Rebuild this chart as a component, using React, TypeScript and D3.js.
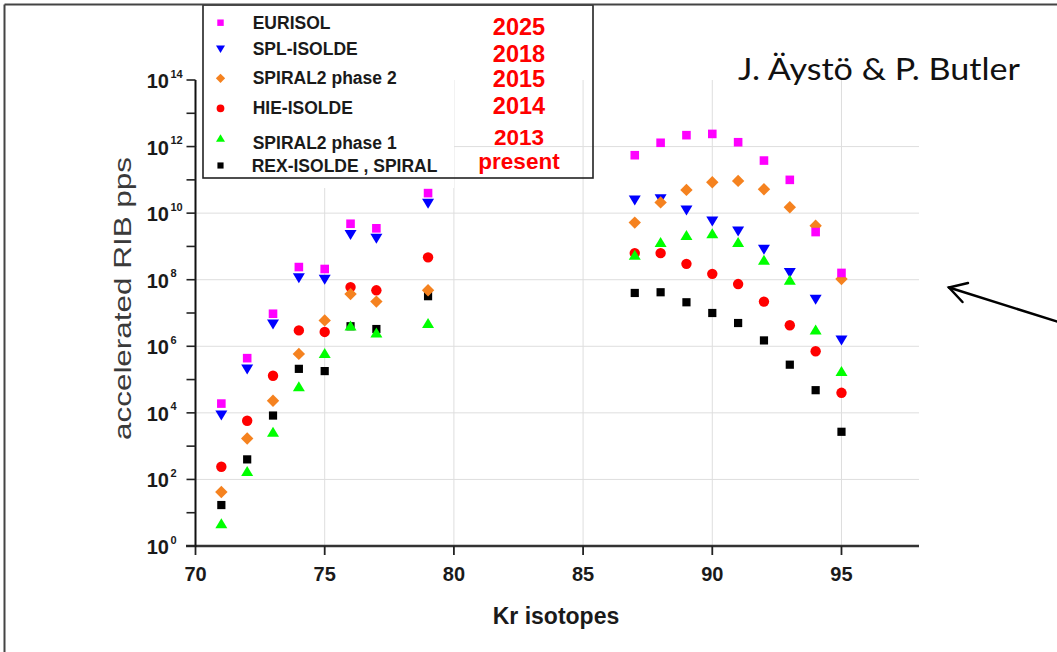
import React from "react";
import * as d3 from "d3";

// Kr mass numbers with measured / projected beam intensities
const isotopes = [71, 72, 73, 74, 75, 76, 77, 79, 87, 88, 89, 90, 91, 92, 93, 94, 95];

// accelerated RIB intensity (particles per second) for each facility
const eurisol = [1.9e4, 4.4e5, 9.5e6, 2.4e8, 2.1e8, 4.8e9, 3.5e9, 4.0e10, 5.5e11, 1.3e12, 2.2e12, 2.4e12, 1.35e12, 3.8e11, 1.0e11, 2.7e9, 1.6e8];
const splIsolde = [8.3e3, 2.0e5, 4.5e6, 1.1e8, 1.0e8, 2.2e9, 1.7e9, 1.9e10, 2.4e10, 2.6e10, 1.2e10, 5.6e9, 2.8e9, 7.9e8, 1.6e8, 2.5e7, 1.5e6];
const spiral2Phase2 = [42, 1.7e3, 2.3e4, 5.9e5, 6.0e6, 3.7e7, 2.2e7, 4.8e7, 5.2e9, 2.1e10, 5.0e10, 8.5e10, 9.3e10, 5.2e10, 1.5e10, 4.2e9, 1.05e8];
const hieIsolde = [240, 5.8e3, 1.3e5, 3.0e6, 2.7e6, 6.0e7, 4.8e7, 4.7e8, 6.3e8, 6.3e8, 3.0e8, 1.5e8, 7.4e7, 2.2e7, 4.3e6, 7.1e5, 4.0e4];
const spiral2Phase1 = [4.8, 180, 2.7e3, 6.3e4, 6.3e5, 4.2e6, 2.6e6, 5.0e6, 5.6e8, 1.35e9, 2.2e9, 2.5e9, 1.35e9, 4.0e8, 1.0e8, 3.2e6, 1.8e5];
const rexIsolde = [17, 400, 8.3e3, 2.1e5, 1.8e5, 4.0e6, 3.3e6, 3.2e7, 4.0e7, 4.2e7, 2.1e7, 1.0e7, 5.0e6, 1.5e6, 2.8e5, 4.8e4, 2.7e3];

// legend labels and the year each facility comes online
const facilityNames = ["EURISOL", "SPL-ISOLDE", "SPIRAL2 phase 2", "HIE-ISOLDE", "SPIRAL2 phase 1", "REX-ISOLDE , SPIRAL"];
const facilityYears = ["2025", "2018", "2015", "2014", "2013", "present"];

// axis ticks
const xTicks = [70, 75, 80, 85, 90, 95];
const yDecades = d3.range(0, 15);

type Shape = "square" | "triDown" | "diamond" | "circle" | "triUp" | "squareSmall";

const seriesValues = [eurisol, splIsolde, spiral2Phase2, hieIsolde, spiral2Phase1, rexIsolde];
const seriesStyle: { color: string; shape: Shape }[] = [
  { color: "#ff00ff", shape: "square" },
  { color: "#0000ff", shape: "triDown" },
  { color: "#f5821f", shape: "diamond" },
  { color: "#ff0000", shape: "circle" },
  { color: "#00ff00", shape: "triUp" },
  { color: "#000000", shape: "squareSmall" },
];

// painting order: black, red, blue, green, orange, magenta
const drawOrder = [5, 3, 1, 4, 2, 0];

const legendRowY = [22.7, 49.3, 78.3, 108.3, 138, 165.5];
const legendTextY = [22.7, 49.3, 78.3, 108.3, 142.7, 166];
const yearBaseline = [35, 61.7, 87, 113.5, 144.5, 168.5];

function markerPath(shape: Shape, k: number): string {
  switch (shape) {
    case "square": {
      const s = 8.6 * k;
      return `M${-s / 2},${-s / 2}h${s}v${s}h${-s}Z`;
    }
    case "squareSmall": {
      const s = 8.2 * k;
      return `M${-s / 2},${-s / 2}h${s}v${s}h${-s}Z`;
    }
    case "diamond": {
      const d = 6.2 * k;
      return `M0,${-d}L${d},0L0,${d}L${-d},0Z`;
    }
    case "triDown": {
      const w = 12 * k, h = 10 * k;
      return `M${-w / 2},${-h / 2}L${w / 2},${-h / 2}L0,${h / 2}Z`;
    }
    case "triUp": {
      const w = 12 * k, h = 10 * k;
      return `M0,${-h / 2}L${w / 2},${h / 2}L${-w / 2},${h / 2}Z`;
    }
    case "circle": {
      const r = 5.2 * k;
      return d3.arc()({ innerRadius: 0, outerRadius: r, startAngle: 0, endAngle: 2 * Math.PI }) as string;
    }
  }
}

export default function App() {
  const width = 1057;
  const height = 652;

  const x = d3.scaleLinear().domain([70, 98]).range([195.5, 919]);
  const y = d3.scaleLog().domain([1, 1e14]).range([546, 80]);

  const axisFont = "'Liberation Sans', Arial, sans-serif";
  const gridColor = "#dedede";

  return (
    <svg
      width={width}
      height={height}
      viewBox={`0 0 ${width} ${height}`}
      style={{ position: "absolute", left: 0, top: 0, background: "#fff" }}
      fontFamily={axisFont}
    >
      <rect x={0} y={0} width={width} height={height} fill="#fff" />

      {/* grid */}
      {xTicks.filter((t) => t > 70).map((t) => (
        <line key={`gx${t}`} x1={x(t)} x2={x(t)} y1={y(1e14)} y2={y(1)} stroke={gridColor} strokeWidth={1} />
      ))}
      {yDecades.filter((e) => e % 2 === 0 && e > 0 && e < 14).map((e) => (
        <line key={`gy${e}`} x1={x(70)} x2={x(98)} y1={y(Math.pow(10, e))} y2={y(Math.pow(10, e))} stroke={gridColor} strokeWidth={1} />
      ))}

      {/* legend backing */}
      <rect x={197} y={6} width={257} height={182} fill="#fff" />

      {/* data points */}
      {drawOrder.map((si) => (
        <g key={`s${si}`} fill={seriesStyle[si].color}>
          {isotopes.map((a, i) => (
            <path
              key={i}
              transform={`translate(${x(a)},${y(seriesValues[si][i])})`}
              d={markerPath(seriesStyle[si].shape, 1)}
            />
          ))}
        </g>
      ))}

      {/* x axis */}
      <line x1={186} x2={x(98)} y1={y(1)} y2={y(1)} stroke="#333" strokeWidth={2.5} />
      {xTicks.map((t) => (
        <g key={`xt${t}`}>
          <line x1={x(t)} x2={x(t)} y1={y(1)} y2={y(1) + 9} stroke="#222" strokeWidth={1.8} />
          <text x={x(t)} y={581} textAnchor="middle" fontSize={20} fontWeight="bold" fill="#1a1a1a">
            {t}
          </text>
        </g>
      ))}
      <text x={556} y={624} textAnchor="middle" fontSize={23} fontWeight="bold" fill="#1a1a1a">
        Kr isotopes
      </text>

      {/* y axis */}
      <line x1={x(70)} x2={x(70)} y1={y(1e14)} y2={y(1) + 1} stroke="#111" strokeWidth={2} />
      {yDecades.map((e) => {
        const yy = y(Math.pow(10, e));
        return (
          <g key={`yt${e}`}>
            <line x1={x(70) - 9} x2={x(70)} y1={yy} y2={yy} stroke="#222" strokeWidth={1.6} />
            {e % 2 === 0 && (
              <>
                <text x={169} y={yy + 8} textAnchor="end" fontSize={20} fontWeight="bold" fill="#1a1a1a">
                  10
                </text>
                <text x={170.5} y={yy - 2.5} fontSize={11} fontWeight="bold" fill="#1a1a1a">
                  {e}
                </text>
              </>
            )}
          </g>
        );
      })}
      <text
        transform={`translate(131,298.5) rotate(-90)`}
        textAnchor="middle"
        fontSize={24}
        fill="#3a3a3a"
        textLength={283}
        lengthAdjust="spacingAndGlyphs"
      >
        accelerated RIB pps
      </text>

      {/* legend */}
      <rect x={203} y={5} width={390} height={173} fill="none" stroke="#222" strokeWidth={1.6} />
      {facilityNames.map((name, i) => (
        <g key={`lg${i}`}>
          <path
            transform={`translate(220.5,${legendRowY[i]})`}
            d={markerPath(seriesStyle[i].shape, 0.75)}
            fill={seriesStyle[i].color}
          />
          <text x={i === 5 ? 251.7 : 252.7} y={legendTextY[i]} dy="0.35em" fontSize={17.5} fontWeight="bold" fill="#1a1a1a">
            {name}
          </text>
          <text x={519} y={yearBaseline[i]} textAnchor="middle" fontSize={i >= 4 ? 22.5 : 23.5} fontWeight="bold" fill="#ff0000">
            {facilityYears[i]}
          </text>
        </g>
      ))}

      {/* slide frame */}
      <line x1={4.5} x2={width} y1={4.5} y2={4.5} stroke="#444" strokeWidth={2} />
      <line x1={4.5} x2={4.5} y1={4.5} y2={height} stroke="#444" strokeWidth={2} />

      {/* attribution */}
      <text x={738} y={80} fontFamily="Lato, 'Open Sans', sans-serif" fontSize={30} fill="#111" textLength={282} lengthAdjust="spacingAndGlyphs">
        J. Äystö &amp; P. Butler
      </text>

      {/* pointer arrow */}
      <g stroke="#000" strokeWidth={2.5} fill="none" strokeLinecap="round">
        <line x1={1060} y1={322.5} x2={949} y2={287.5} />
        <polyline points="968,283 949,287.5 962.5,302" />
      </g>
    </svg>
  );
}
